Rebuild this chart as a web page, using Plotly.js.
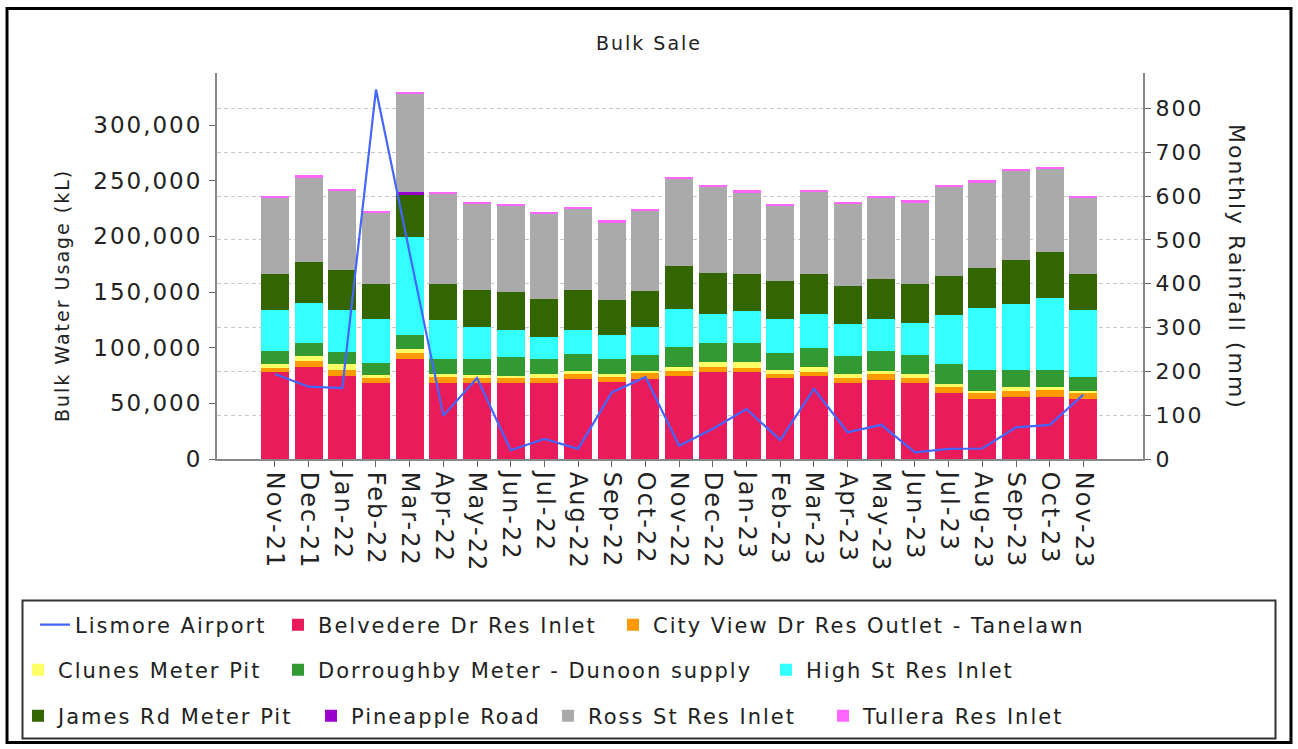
<!DOCTYPE html>
<html>
<head>
<meta charset="utf-8">
<script src="https://cdn.plot.ly/plotly-3.0.1.min.js"></script>
<style>
  html, body { margin: 0; padding: 0; background: #fff; }
  #chart { width: 1298px; height: 749px; }
  svg text { letter-spacing: 2px; }
</style>
</head>
<body>
<div id="chart"></div>
<script>
// ---------- data ----------
const months = ['Nov-21','Dec-21','Jan-22','Feb-22','Mar-22','Apr-22','May-22','Jun-22','Jul-22','Aug-22','Sep-22','Oct-22',
                'Nov-22','Dec-22','Jan-23','Feb-23','Mar-23','Apr-23','May-23','Jun-23','Jul-23','Aug-23','Sep-23','Oct-23','Nov-23'];

const belvedere  = [78000,82500,75000,68000,90000,68000,68000,68000,68000,72000,69000,72000,75000,78000,78000,73000,75000,68000,71000,68000,59000,54000,56000,56000,54000];
const cityView   = [3500,5500,5000,4500,5000,5500,4500,4500,5000,4500,4500,5000,4500,4500,4000,3500,3500,5000,5000,5000,5500,5000,5500,6000,5000];
const clunes     = [4000,4500,5000,3100,4000,3000,3000,2500,3500,3000,3000,2500,3000,4500,5000,3500,4000,3500,3500,3000,3000,2500,3500,3000,2500];
const dorroughby = [11500,11500,11500,10600,12000,13000,13900,17000,13000,15000,13000,13500,18000,17000,17400,15500,17500,16000,17500,17000,17500,18500,15000,15000,12000];
const highSt     = [36500,36400,37500,39800,88500,35500,29100,23500,20000,21500,21500,25500,34500,26500,28200,29900,30500,28500,29000,29400,44000,56000,59000,64600,60000];
const jamesRd    = [33000,36600,35500,31000,37500,32500,33500,34500,34500,36000,31500,32100,38400,36900,33900,34200,36000,34000,35400,34600,35400,36000,40000,41400,33000];
const pineapple  = [0,0,0,0,3000,0,0,0,0,0,0,0,0,0,0,0,0,0,0,0,0,0,0,0,0];
const rossSt     = [67800,75900,71500,64000,88000,80500,77500,77000,76000,72400,69900,72400,78000,76600,72900,67400,73500,74000,73200,73400,79600,76400,80000,74400,67800];
const tullera    = [1700,2100,2000,2000,2000,1500,1500,2000,2000,2000,2000,1700,2000,2000,2000,2000,2000,2000,1800,2000,2000,2000,1500,2000,1700];
const rainfall   = [194,165,162,843,470,99,185,20,46,23,152,187,30,69,114,43,160,61,78,15,23,24,72,78,147];

const seriesNames = ['Belvedere Dr Res Inlet','City View Dr Res Outlet - Tanelawn','Clunes Meter Pit','Dorroughby Meter - Dunoon supply',
                     'High St Res Inlet','James Rd Meter Pit','Pineapple Road','Ross St Res Inlet','Tullera Res Inlet'];
const seriesData  = [belvedere, cityView, clunes, dorroughby, highSt, jamesRd, pineapple, rossSt, tullera];
const seriesColors = ['#E91B5A','#FF9900','#FFFF66','#339933','#33FFFF','#336600','#9900CC','#AAAAAA','#FF66FF'];

// ---------- geometry (pixels) ----------
const W = 1298, H = 749;
const PL = 217, PR = 1143, PT = 73, PB = 459;
const PW = PR - PL, PH = PB - PT;
const px2x = p => (p - PL) / PW;
const py2y = p => (PB - p) / PH;

const FONT = 'DejaVu Sans, Verdana, sans-serif';
const TXT = '#222222';

// legend item placement (one legend per item to reproduce rows)
const legendPos = [
  [35, 625],                                    // Lismore Airport (line)
  [278, 625], [613, 625],                       // row 1
  [18, 670], [278, 670], [766, 670],            // row 2
  [18, 716], [311, 716], [548, 716], [823, 716] // row 3
];
const legendIds = ['legend','legend2','legend3','legend4','legend5','legend6','legend7','legend8','legend9','legend10'];

// ---------- traces ----------
const traces = [];
traces.push({
  type: 'scatter', mode: 'lines', name: 'Lismore Airport',
  x: months, y: rainfall, yaxis: 'y2',
  line: {color: '#4466FF', width: 2.2},
  legend: legendIds[0]
});
seriesNames.forEach((n, i) => {
  traces.push({
    type: 'bar', name: n, x: months, y: seriesData[i],
    marker: {color: seriesColors[i], line: {width: 0}},
    legend: legendIds[i + 1]
  });
});

// ---------- layout ----------
const layout = {
  width: W, height: H,
  margin: {l: PL, r: W - PR, t: PT, b: H - PB, autoexpand: false},
  paper_bgcolor: '#fff', plot_bgcolor: '#fff',
  font: {family: FONT, color: TXT, size: 20},
  barmode: 'stack', bargap: 0.17,
  title: {text: 'Bulk Sale', font: {family: FONT, size: 19, color: TXT},
          xref: 'container', x: 0.5, xanchor: 'center',
          yref: 'container', y: 1 - 43 / H, yanchor: 'middle'},
  xaxis: {
    type: 'category', range: [-1.72, 25.77],
    showline: true, linecolor: '#888', linewidth: 2,
    ticks: 'outside', ticklen: 6, tickcolor: '#666', tickwidth: 1,
    tickangle: 90, tickfont: {family: FONT, size: 24, color: TXT},
    showgrid: false, zeroline: false, fixedrange: true
  },
  yaxis: {
    range: [0, 346800], tick0: 0, dtick: 50000, tickformat: ',',
    showline: true, linecolor: '#888', linewidth: 2,
    ticks: 'outside', ticklen: 6, tickcolor: '#666',
    ticklabelstandoff: 2,
    tickfont: {family: FONT, size: 23, color: TXT},
    showgrid: false, zeroline: false
  },
  yaxis2: {
    overlaying: 'y', side: 'right',
    range: [0, 880.7], tick0: 0, dtick: 100,
    showline: true, linecolor: '#888', linewidth: 2,
    ticks: 'outside', ticklen: 6, tickcolor: '#666',
    tickfont: {family: FONT, size: 22, color: TXT},
    showgrid: true, gridcolor: '#c8c8c8', gridwidth: 1, griddash: '4px,3px',
    zeroline: false
  },
  annotations: [
    {text: 'Bulk Water Usage (kL)', xref: 'paper', yref: 'paper',
     x: px2x(62), y: py2y(296), xanchor: 'center', yanchor: 'middle',
     textangle: -90, showarrow: false, font: {family: FONT, size: 19, color: TXT}},
    {text: 'Monthly Rainfall (mm)', xref: 'paper', yref: 'paper',
     x: px2x(1237), y: py2y(267), xanchor: 'center', yanchor: 'middle',
     textangle: 90, showarrow: false, font: {family: FONT, size: 22, color: TXT}}
  ],
  shapes: [
    {type: 'rect', xref: 'paper', yref: 'paper',
     x0: px2x(7), x1: px2x(1291), y0: py2y(8.5), y1: py2y(742.5),
     line: {color: '#000', width: 3}, fillcolor: 'rgba(0,0,0,0)'},
    {type: 'rect', xref: 'paper', yref: 'paper',
     x0: px2x(22.5), x1: px2x(1275.5), y0: py2y(600.5), y1: py2y(738.5),
     line: {color: '#333', width: 2}, fillcolor: 'rgba(0,0,0,0)'}
  ],
  showlegend: true
};

legendIds.forEach((id, i) => {
  layout[id] = {
    x: px2x(legendPos[i][0]), xanchor: 'left',
    y: py2y(legendPos[i][1]), yanchor: 'middle',
    orientation: 'h', bgcolor: 'rgba(0,0,0,0)', borderwidth: 0,
    font: {family: FONT, size: 21, color: TXT}
  };
});

Plotly.newPlot('chart', traces, layout, {staticPlot: true, displayModeBar: false});
</script>
</body>
</html>
